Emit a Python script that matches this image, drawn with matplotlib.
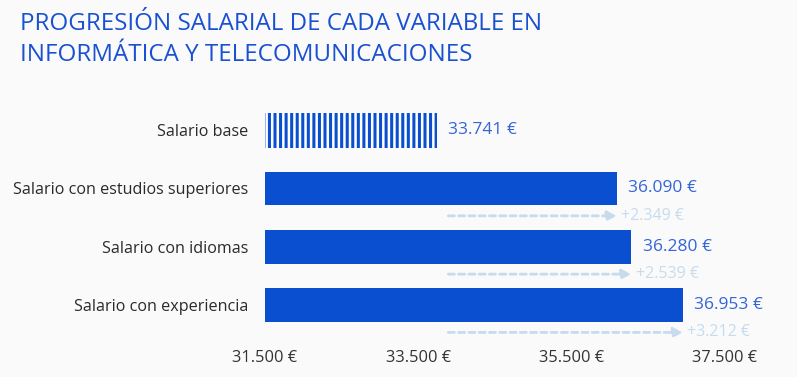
import numpy as np
import matplotlib.pyplot as plt

plt.rcParams['font.family'] = ['Open Sans', 'DejaVu Sans']

categorias = ['Salario base', 'Salario con estudios superiores',
              'Salario con idiomas', 'Salario con experiencia']
salarios = [33741, 36090, 36280, 36953]
incrementos = ['', '+2.349 €', '+2.539 €', '+3.212 €']
valores_txt = ['33.741 €', '36.090 €', '36.280 €', '36.953 €']
ticks = [31500, 33500, 35500, 37500]
tick_labels = ['31.500 €', '33.500 €', '35.500 €', '37.500 €']

azul = '#0b4fd1'
azul_txt = '#3464d6'
azul_claro = '#c6dcee'
fondo = '#fafafa'

fig = plt.figure(figsize=(7.97, 3.77), dpi=100, facecolor=fondo)
ax = fig.add_axes([265 / 797, 37 / 377, 460 / 797, 239 / 377], facecolor=fondo)

y = np.arange(len(categorias))
base = ticks[0]

# barra base rayada, resto lisas
plt.rcParams['hatch.linewidth'] = 2.2
plt.rcParams['hatch.color'] = azul
ax.barh(y[0], salarios[0] - base, left=base, height=0.6,
        color='white', hatch='|||', edgecolor=azul, linewidth=0)
ax.barh(y[1:], np.array(salarios[1:]) - base, left=base, height=0.58, color=azul)

for i in range(len(categorias)):
    ax.annotate(valores_txt[i], (salarios[i], y[i]), xytext=(8, 0),
                textcoords='offset points', va='center', ha='left',
                fontsize=12.5, color=azul_txt)
    if i > 0:
        ya = y[i] + 0.47
        ax.annotate('', xy=(salarios[i], ya), xytext=(salarios[0] + 150, ya),
                    arrowprops=dict(arrowstyle='-|>', color=azul_claro, lw=2,
                                    linestyle=(0, (2.2, 1.5)), mutation_scale=14,
                                    shrinkA=0, shrinkB=0))
        ax.annotate(incrementos[i], (salarios[i], ya), xytext=(3, 0),
                    textcoords='offset points', va='center', ha='left',
                    fontsize=11.5, color=azul_claro)

ax.set_xlim(31500, 37500)
ax.set_ylim(3.6, -0.5)
ax.set_xticks(ticks)
ax.set_xticklabels(tick_labels, fontsize=11.8, color='#333333')
ax.set_yticks(y)
ax.set_yticklabels(categorias, fontsize=11.6, color='#2a2a2a')
ax.tick_params(length=0)
ax.tick_params(axis='x', pad=7)
ax.tick_params(axis='y', pad=12)
for s in ax.spines.values():
    s.set_visible(False)

fig.text(20 / 797, 1 - 12 / 377,
         'PROGRESIÓN SALARIAL DE CADA VARIABLE EN\nINFORMÁTICA Y TELECOMUNICACIONES',
         fontsize=17.4, color='#1a50d2', va='top', ha='left', linespacing=1.4)

fig.savefig('out.png', dpi=100, facecolor=fondo)
